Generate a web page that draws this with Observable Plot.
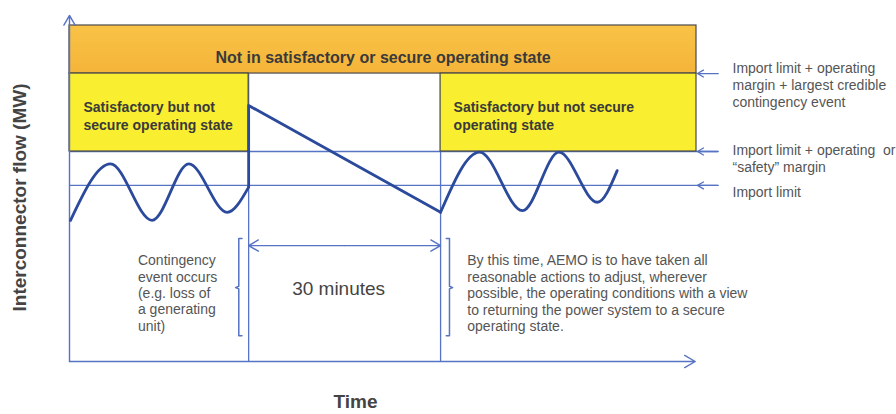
<!DOCTYPE html>
<html>
<head>
<meta charset="utf-8">
<script src="https://cdn.jsdelivr.net/npm/d3@7"></script>
<script src="https://cdn.jsdelivr.net/npm/@observablehq/plot@0.6"></script>
<style>
  html, body { margin: 0; padding: 0; background: #fff; }
  svg text { white-space: pre; }
</style>
</head>
<body>
<div id="chart"></div>
<script>
// ---- Data (time in minutes, 0 = contingency event; flow in schematic MW units) ----
const timeStart = -28, timeEnd = 70;
const contingencyTime = 0, restoreTime = 30;
const flowMax = 100;
const axisTopFlow = 103;
const axisEndTime = 69.8;

const levelNames = [
  "Import limit",
  "Import limit + operating  or\n“safety” margin",
  "Import limit + operating\nmargin + largest credible\ncontingency event"
];
const levelValues = [52.4, 62.5, 85.7];
const levelArrowTail = 73.4;
const levelArrowTip = 70.15;

const stateNames = [
  "Not in satisfactory or secure operating state",
  "Satisfactory but not\nsecure operating state",
  "Satisfactory but not secure\noperating state"
];

// Interconnector flow before the contingency
const preTime = [-27.84, -21.6, -15.1, -9.35, -3.35, 0];
const preFlow = [42.0, 58.8, 42.0, 58.8, 44.4, 51.9];
// Jump at contingency and ramp down over 30 minutes
const rampTime = [0, 0, 30];
const rampFlow = [51.9, 76.2, 44.4];
// Flow after the 30 minutes
const postTime = [30, 36.1, 42.8, 48.5, 54.5, 57.6];
const postFlow = [44.4, 62.3, 44.9, 62.3, 47.4, 56.8];

// Brackets and interval arrow
const bracketTimes = [-1.54, 31.39];
const bracketFlow = [7.7, 22.0, 36.6]; // bottom, middle notch, top
const intervalFlow = 34.5;
const intervalLabel = "30 minutes";

const contingencyText = "Contingency\nevent occurs\n(e.g. loss of\na generating\nunit)";
const restoreText = "By this time, AEMO is to have taken all\nreasonable actions to adjust, wherever\npossible, the operating conditions with a view\nto returning the power system to a secure\noperating state.";

const yLabel = "Interconnector flow (MW)";
const xLabel = "Time";

// ---- Derived tables ----
const pre = preTime.map((t, i) => ({t, v: preFlow[i]}));
const ramp = rampTime.map((t, i) => ({t, v: rampFlow[i]}));
const post = postTime.map((t, i) => ({t, v: postFlow[i]}));
const waves = [...pre.map(d => ({...d, s: "pre"})), ...post.map(d => ({...d, s: "post"}))];

const mid = (contingencyTime + restoreTime) / 2;
const bracketPts = bracketTimes.flatMap((t, k) => {
  const d = Math.sign(mid - t); // serif direction
  const [lo, m, hi] = bracketFlow;
  return [
    {t: t + d * 0.5, v: hi}, {t, v: hi}, {t, v: m + 0.4}, {t: t - d * 0.5, v: m},
    {t, v: m - 0.4}, {t, v: lo}, {t: t + d * 0.5, v: lo}
  ].map(p => ({...p, k}));
});

const thin = "#5673C4";
const thick = "#2C4A9C";
const boxStroke = "#4a4a4a";
const font = "'Liberation Sans', Arial, Helvetica, sans-serif";

const chart = Plot.plot({
  width: 896,
  height: 414,
  marginLeft: 69,
  marginRight: 200,
  marginTop: 25,
  marginBottom: 53,
  x: {domain: [timeStart, timeEnd], axis: null},
  y: {domain: [0, flowMax], axis: null},
  style: {fontFamily: font, background: "#fff", overflow: "visible"},
  marks: [
    // level lines
    Plot.ruleY([levelValues[0], levelValues[1]], {x1: timeStart, x2: levelArrowTail, stroke: thin, strokeWidth: 1.3}),
    Plot.arrow(levelValues, {x1: levelArrowTail, x2: levelArrowTip, y1: d => d, y2: d => d, stroke: thin, strokeWidth: 1.3, headLength: 11, headAngle: 60}),
    // vertical time markers
    Plot.ruleX([contingencyTime, restoreTime], {y1: 0, y2: levelValues[2], stroke: thin, strokeWidth: 1.3}),
    // state boxes
    Plot.rect([0], {x1: timeStart, x2: timeEnd, y1: levelValues[2], y2: flowMax, fill: "url(#orangeGrad)", stroke: boxStroke, strokeWidth: 1.2}),
    Plot.rect([0], {x1: timeStart, x2: contingencyTime, y1: levelValues[1], y2: levelValues[2], fill: "#F9EE30", stroke: boxStroke, strokeWidth: 1.2}),
    Plot.rect([0], {x1: restoreTime, x2: timeEnd, y1: levelValues[1], y2: levelValues[2], fill: "#F9EE30", stroke: boxStroke, strokeWidth: 1.2}),
    // axes
    Plot.arrow([0], {x1: timeStart, y1: 0, x2: timeStart, y2: axisTopFlow, stroke: thin, strokeWidth: 1.4, headLength: 12, headAngle: 60}),
    Plot.arrow([0], {x1: timeStart, y1: 0, x2: axisEndTime, y2: 0, stroke: thin, strokeWidth: 1.4, headLength: 13, headAngle: 60}),
    // 30 minutes double arrow
    Plot.arrow([contingencyTime, restoreTime], {x1: mid, x2: d => d, y1: intervalFlow, y2: intervalFlow, stroke: thin, strokeWidth: 1.4, headLength: 12, headAngle: 60}),
    // brackets
    Plot.line(bracketPts, {x: "t", y: "v", z: "k", stroke: thin, strokeWidth: 1.5}),
    // flow lines
    Plot.line(waves, {x: "t", y: "v", z: "s", curve: "monotone-x", stroke: thick, strokeWidth: 2.8}),
    Plot.line(ramp, {x: "t", y: "v", stroke: thick, strokeWidth: 2.8, strokeLinejoin: "round"}),
    // state labels
    Plot.text([stateNames[0]], {x: (timeStart + timeEnd) / 2, y: (levelValues[2] + flowMax) / 2, dy: 8.5, fontSize: 16, fontWeight: "bold", fill: "#3a3a3a"}),
    Plot.text([stateNames[1]], {x: timeStart, y: (levelValues[1] + levelValues[2]) / 2, dx: 14, dy: 3, textAnchor: "start", fontSize: 14, fontWeight: "bold", lineHeight: 1.24, fill: "#3a3a3a"}),
    Plot.text([stateNames[2]], {x: restoreTime, y: (levelValues[1] + levelValues[2]) / 2, dx: 13, dy: 3, textAnchor: "start", fontSize: 14, fontWeight: "bold", lineHeight: 1.24, fill: "#3a3a3a"}),
    // level annotations
    Plot.text([levelNames[0]], {x: timeEnd, y: levelValues[0], dx: 36, dy: 6.7, textAnchor: "start", fontSize: 14, fill: "#555"}),
    Plot.text([levelNames[1]], {x: timeEnd, y: levelValues[1], dx: 36, dy: 6.7, textAnchor: "start", fontSize: 14, lineHeight: 1.19, fill: "#555"}),
    Plot.text([levelNames[2]], {x: timeEnd, y: levelValues[2], dx: 36, dy: 11.2, textAnchor: "start", fontSize: 14, lineHeight: 1.21, fill: "#555"}),
    // bottom annotations
    Plot.text([contingencyText], {x: contingencyTime, y: bracketFlow[1], dx: -110.7, dy: 5.3, textAnchor: "start", fontSize: 14, lineHeight: 1.17, fill: "#555"}),
    Plot.text([restoreText], {x: restoreTime, y: bracketFlow[1], dx: 26.7, dy: 5.2, textAnchor: "start", fontSize: 14, lineHeight: 1.18, fill: "#555"}),
    Plot.text([intervalLabel], {x: mid, y: bracketFlow[1], dx: -6, dy: 1.3, fontSize: 19, fill: "#444"}),
    // axis labels
    Plot.text([yLabel], {frameAnchor: "left", textAnchor: "middle", lineAnchor: "middle", rotate: -90, dx: -50, dy: 4, fontSize: 19, fontWeight: "bold", fill: "#444"}),
    Plot.text([xLabel], {frameAnchor: "bottom", textAnchor: "middle", lineAnchor: "middle", dx: -27.5, dy: 40, fontSize: 19, fontWeight: "bold", fill: "#444"})
  ]
});

chart.insertAdjacentHTML("afterbegin",
  '<defs><linearGradient id="orangeGrad" x1="0" y1="0" x2="0" y2="1">' +
  '<stop offset="0%" stop-color="#F8C346"/><stop offset="100%" stop-color="#F5B43A"/>' +
  '</linearGradient></defs>');
document.getElementById("chart").appendChild(chart);
</script>
</body>
</html>
